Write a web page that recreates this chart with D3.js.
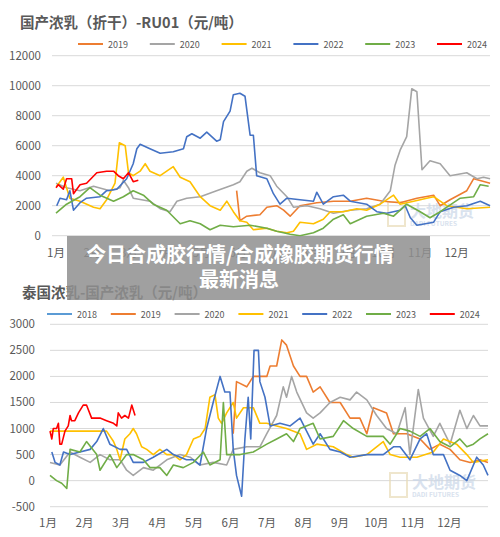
<!DOCTYPE html>
<html><head><meta charset="utf-8">
<script src="https://cdn.jsdelivr.net/npm/d3@7/dist/d3.min.js"></script>
<style>body{margin:0;background:#fff}svg{font-family:"Noto Sans CJK SC","Noto Sans",sans-serif}</style>
</head><body><svg id="c" width="500" height="537"></svg>
<script>
const months=["1月","2月","3月","4月","5月","6月","7月","8月","9月","10月","11月","12月"];
const topTicks=[0,2000,4000,6000,8000,10000,12000];
const botTicks=[-500,0,500,1000,1500,2000,2500,3000];
const colors={"2018":"#5B9BD5","2019":"#ED7D31","2020":"#A5A5A5","2021":"#FFC000","2022":"#4472C4","2023":"#70AD47","2024":"#FF0000"};
// top chart: [month, value]
const top2019=[[4.96,3000],[5.05,1000],[5.24,1300],[5.6,1400],[5.79,1900],[6.06,2000],[6.25,1700],[6.43,1300],[6.7,2000],[7.16,2200],[7.62,2300],[8.08,2300],[8.53,2500],[8.99,2300],[9.45,2200],[9.91,2500],[10.37,2700],[10.55,2000],[10.82,2400],[11.28,3000],[11.47,3800],[11.92,3500]];
const top2020=[[0,3500],[0.29,3200],[0.66,3000],[1.03,3300],[1.48,3000],[1.76,3200],[1.85,3700],[1.99,3200],[2.12,2500],[2.58,2300],[2.86,1800],[3.13,1600],[3.32,2300],[3.59,2500],[3.96,2600],[4.41,3000],[4.87,3400],[5.05,3600],[5.24,4300],[5.38,4500],[5.6,4200],[5.88,4000],[6.06,3300],[6.34,2600],[6.52,1900],[6.89,2000],[7.25,1800],[7.62,1500],[8.08,1700],[8.53,1800],[8.9,2100],[9.18,3000],[9.31,4700],[9.45,5700],[9.63,6600],[9.77,9800],[9.91,9600],[10.05,4400],[10.27,5000],[10.55,4800],[10.82,4000],[11.28,4200],[11.56,3800],[11.74,3900],[11.92,3800]];
const top2021=[[0.02,3300],[0.2,3900],[0.38,2500],[0.66,2300],[1.03,1900],[1.21,1800],[1.39,2400],[1.62,3500],[1.74,6200],[1.9,6000],[1.99,4200],[2.12,4000],[2.31,4300],[2.45,4800],[2.58,4300],[2.86,4000],[3.04,4300],[3.22,4600],[3.41,3900],[3.68,3600],[3.96,2600],[4.23,2000],[4.51,1700],[4.69,2300],[4.87,1600],[5.05,1000],[5.24,900],[5.42,400],[5.79,500],[6.06,300],[6.34,200],[6.52,300],[6.7,900],[7.07,800],[7.34,1100],[7.53,1600],[7.89,1600],[8.26,1800],[8.53,1700],[8.9,2100],[9.27,2700],[9.45,2100],[9.82,2300],[10.18,2500],[10.37,2600],[10.73,2000],[11.28,1800],[11.92,1900]];
const top2022=[[0.02,2000],[0.11,2500],[0.29,2400],[0.38,3000],[0.48,1700],[0.66,2200],[0.84,2500],[1.21,2600],[1.39,3000],[1.67,3100],[1.94,3800],[2.12,4800],[2.22,5800],[2.31,6100],[2.58,5800],[2.86,5500],[3.22,5600],[3.5,5800],[3.59,6600],[3.73,6800],[3.96,6500],[4.14,6900],[4.41,6300],[4.51,6400],[4.6,7600],[4.78,8300],[4.87,9400],[5.05,9500],[5.19,9300],[5.33,6700],[5.42,6700],[5.51,4000],[5.79,3800],[5.97,2800],[6.15,2100],[6.34,2500],[6.7,2400],[7.07,2300],[7.16,2900],[7.34,2100],[7.62,2600],[7.89,2700],[8.08,2300],[8.53,2100],[8.81,1600],[9.08,1500],[9.45,1700],[9.59,2000],[9.73,1200],[9.91,700],[10.37,900],[10.55,1600],[10.92,1900],[11.28,2000],[11.65,2300],[11.92,2000]];
const top2023=[[0,1500],[0.29,2100],[0.66,2600],[0.93,3200],[1.21,2700],[1.58,2300],[1.85,2600],[2.12,3000],[2.4,2700],[2.67,2100],[3.04,1700],[3.41,800],[3.68,1000],[3.96,800],[4.23,400],[4.51,700],[4.87,600],[5.33,700],[5.79,500],[6.06,300],[6.43,100],[6.7,0],[7.07,200],[7.34,500],[7.62,1100],[7.89,1400],[8.08,800],[8.53,1300],[8.99,1500],[9.27,1300],[9.63,2100],[10.0,1600],[10.27,1200],[10.55,1600],[11.1,2500],[11.47,2600],[11.65,3400],[11.88,3300]];
const top2024=[[0,3200],[0.06,3400],[0.2,3100],[0.29,3800],[0.43,3800],[0.48,2800],[0.66,3400],[0.84,3500],[1.12,4200],[1.39,4300],[1.58,4300],[1.71,4000],[1.85,3800],[1.99,4200],[2.12,3600],[2.26,3700]];
// bottom chart
const bot2018=[];
const bot2019=[[5.02,900],[5.11,1900],[5.39,1800],[5.57,2000],[5.94,2000],[6.03,2200],[6.21,2200],[6.35,2700],[6.48,2600],[6.67,2200],[6.85,2000],[7.03,2000],[7.21,1700],[7.4,1800],[7.67,1500],[7.95,1500],[8.22,1200],[8.49,1200],[8.68,900],[8.86,1400],[9.22,1300],[9.41,900],[9.77,900],[10.14,800],[10.41,600],[10.68,700],[10.96,600],[11.23,400],[11.51,350],[11.78,400],[12,350]];
const bot2020=[[0,350],[.27,300],[.55,550],[.82,450],[1.1,350],[1.37,500],[1.64,400],[1.92,400],[2.1,200],[2.28,100],[2.56,250],[2.83,200],[3.2,400],[3.56,500],[3.84,450],[4.11,300],[4.47,350],[4.84,300],[5.02,600],[5.39,650],[5.75,650],[5.94,900],[6.21,1250],[6.39,1800],[6.48,1600],[6.62,2000],[6.76,1700],[7.03,1300],[7.21,1200],[7.4,1300],[7.67,1500],[7.95,1600],[8.22,1550],[8.4,1700],[8.68,1550],[8.95,1250],[9.22,1000],[9.5,900],[9.73,1400],[9.86,500],[10.09,1750],[10.23,1200],[10.5,850],[10.68,1100],[10.96,700],[11.23,1350],[11.42,1000],[11.6,1250],[11.78,1050],[12,1050]];
const bot2021=[[0,950],[.18,950],[.46,950],[.91,950],[1.37,950],[1.55,950],[1.74,750],[1.83,600],[1.92,400],[2.05,800],[2.19,900],[2.28,1000],[2.37,900],[2.51,650],[2.65,600],[2.83,500],[3.01,600],[3.2,500],[3.38,500],[3.56,400],[3.74,500],[3.93,800],[4.11,850],[4.25,1000],[4.38,1600],[4.52,1650],[4.61,1200],[4.7,1100],[4.84,1300],[5.02,1500],[5.11,1200],[5.3,1400],[5.57,1400],[5.75,1100],[5.94,1100],[6.21,1050],[6.48,1000],[6.85,900],[7.03,600],[7.31,700],[7.76,650],[8.13,500],[8.31,450],[8.68,500],[9.13,750],[9.32,500],[9.59,450],[10.05,450],[10.5,550],[10.78,800],[11.14,700],[11.42,500],[11.6,350],[12,400]];
const bot2022=[[.05,550],[.14,350],[.27,300],[.37,550],[.55,500],[.82,550],[1.1,600],[1.28,750],[1.46,1000],[1.64,700],[1.92,600],[2.1,600],[2.28,350],[2.56,350],[2.83,450],[3.2,600],[3.38,500],[3.74,400],[3.93,400],[4.11,300],[4.29,1000],[4.47,1500],[4.66,2000],[4.79,1700],[4.93,1700],[5.02,600],[5.11,100],[5.25,-300],[5.34,800],[5.43,1600],[5.5,800],[5.59,2500],[5.71,2500],[5.75,1900],[5.89,1600],[6.03,1050],[6.3,1100],[6.58,1050],[6.85,1200],[7.21,700],[7.4,900],[7.67,600],[7.95,550],[8.22,450],[8.68,500],[9.13,500],[9.41,650],[9.59,650],[9.86,400],[10.14,800],[10.32,900],[10.5,500],[10.78,500],[10.96,200],[11.23,100],[11.42,0],[11.69,450],[11.87,300],[12,100]];
const bot2023=[[0,100],[.18,0],[.32,-50],[.46,-150],[.55,600],[.82,550],[1.0,750],[1.28,500],[1.37,200],[1.64,500],[1.83,250],[2.1,500],[2.28,500],[2.56,400],[2.74,250],[3.01,250],[3.2,100],[3.38,300],[3.65,250],[3.93,350],[4.2,550],[4.38,300],[4.66,400],[4.75,1500],[4.84,500],[5.21,500],[5.57,550],[5.94,700],[6.21,800],[6.48,900],[6.67,750],[6.85,1000],[7.21,1100],[7.4,800],[7.76,850],[8.04,1150],[8.31,1000],[8.68,850],[9.13,850],[9.32,700],[9.59,1000],[9.86,950],[10.14,850],[10.41,1000],[10.68,750],[10.96,650],[11.23,800],[11.42,650],[11.6,700],[11.78,800],[12,900]];
const bot2024=[[0,950],[.05,800],[.09,1000],[.18,1000],[.23,1100],[.27,700],[.32,700],[.41,950],[.5,1050],[.55,1250],[.59,1150],[.68,1150],[.78,1300],[.91,1450],[1.0,1450],[1.14,1200],[1.37,1200],[1.55,1150],[1.74,1100],[1.83,1050],[1.87,1300],[1.96,1200],[2.05,1250],[2.15,1200],[2.24,1450],[2.33,1250]];

const svg=d3.select("#c");
const txt="#595959";
function chart(o){
  const x=d3.scaleLinear().domain([0,12]).range([o.x0,o.x1]);
  const y=d3.scaleLinear().domain([o.ticks[0],o.ticks[o.ticks.length-1]]).range([o.yb,o.yt]);
  const g=svg.append("g");
  g.selectAll(".gl").data(o.ticks).join("line").attr("x1",o.gx0).attr("x2",o.gx1).attr("y1",d=>y(d)).attr("y2",d=>y(d)).attr("stroke","#d9d9d9").attr("stroke-width",1);
  g.selectAll(".yl").data(o.ticks).join("text").attr("x",o.ylx).attr("y",d=>y(d)+4).attr("text-anchor","end").attr("font-size",11.5).attr("fill",txt).text(d=>d);
  g.selectAll(".xl").data(months).join("text").attr("x",(d,i)=>x(i)+o.xoff).attr("y",o.xly).attr("text-anchor","middle").attr("font-size",11.5).attr("fill",txt).text(d=>d);
  g.append("text").attr("x",o.tx).attr("y",o.ty).attr("font-size",14.5).attr("font-weight","bold").attr("fill",txt).text(o.title);
  g.append("text").attr("x",o.wx).attr("y",o.wy).attr("font-size",16).attr("font-weight","bold").attr("fill","#c9d6e8").attr("opacity",0.7).text("大地期货");
  g.append("text").attr("x",o.wx).attr("y",o.wy+9).attr("font-size",6.5).attr("font-weight","bold").attr("fill","#c9d6e8").attr("opacity",0.7).text("DADI FUTURES");
  g.append("rect").attr("x",o.wx-22).attr("y",o.wy-15).attr("width",17).attr("height",24).attr("fill","none").attr("stroke","#e8dcb8").attr("stroke-width",2).attr("opacity",0.7);
  const line=d3.line().x(d=>x(d[0])).y(d=>y(d[1]));
  o.series.forEach(s=>{
    if(s.data.length) g.append("path").attr("d",line(s.data)).attr("fill","none").attr("stroke",colors[s.name]).attr("stroke-width",1.6).attr("stroke-linejoin","round");
  });
  o.series.forEach((s,i)=>{
    const lx=o.lx0+i*o.ldx;
    g.append("line").attr("x1",lx).attr("x2",lx+25).attr("y1",o.ly).attr("y2",o.ly).attr("stroke",colors[s.name]).attr("stroke-width",2);
    g.append("text").attr("x",lx+30).attr("y",o.ly+3.5).attr("font-size",9).attr("fill",txt).text(s.name);
  });
}
chart({x0:56,x1:493,gx0:52,gx1:490,yb:235.7,yt:55.7,ticks:topTicks,ylx:41,xly:257,xoff:0,title:"国产浓乳（折干）-RU01（元/吨）",tx:20,ty:28,ly:44,lx0:78,ldx:71.8,wx:410,wy:217,
  series:[{name:"2019",data:top2019},{name:"2020",data:top2020},{name:"2021",data:top2021},{name:"2022",data:top2022},{name:"2023",data:top2023},{name:"2024",data:top2024}]});
chart({x0:50,x1:488,gx0:50,gx1:488,yb:506.7,yt:324.3,ticks:botTicks,ylx:35,xly:527,xoff:-2,title:"泰国浓乳-国产浓乳（元/吨）",tx:22,ty:298,ly:314,lx0:47,ldx:63.8,wx:412,wy:488,
  series:[{name:"2018",data:bot2018},{name:"2019",data:bot2019},{name:"2020",data:bot2020},{name:"2021",data:bot2021},{name:"2022",data:bot2022},{name:"2023",data:bot2023},{name:"2024",data:bot2024}]});
// banner
svg.append("rect").attr("x",67).attr("y",236).attr("width",363).attr("height",64).attr("fill","#8f8f8f").attr("opacity",0.85);
svg.append("text").attr("x",240).attr("y",262).attr("text-anchor","middle").attr("font-size",20).attr("font-weight","bold").attr("fill","#fff").text("今日合成胶行情/合成橡胶期货行情");
svg.append("text").attr("x",239).attr("y",287).attr("text-anchor","middle").attr("font-size",20).attr("font-weight","bold").attr("fill","#fff").text("最新消息");
</script></body></html>
